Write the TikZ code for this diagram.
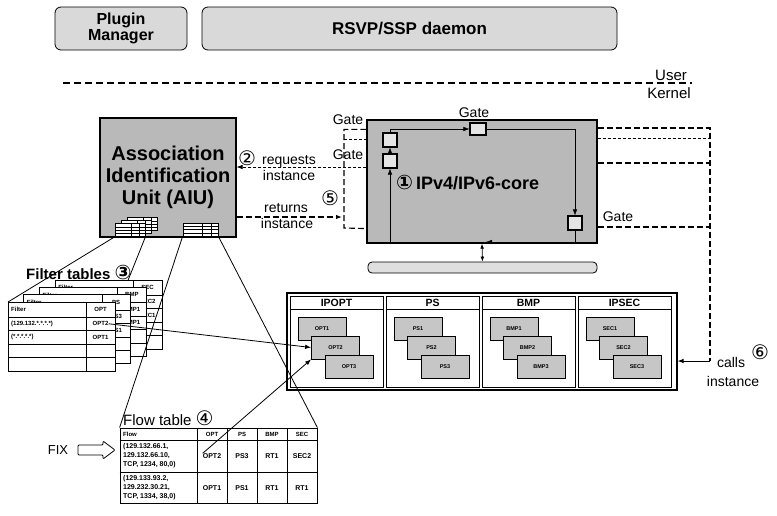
\documentclass[tikz,border=0pt]{standalone}
\usepackage{fontspec}
\setmainfont{Liberation Sans}
\newfontfamily\symfont{DejaVu Sans}
\usetikzlibrary{calc,arrows.meta}

\newcommand\numc[1]{{\symfont\fontsize{20}{20}\selectfont #1}}
\newcommand\fsz[1]{\fontsize{#1}{#1}\selectfont}

\tikzset{
  userbox/.style={draw, thick, rounded corners=6pt, fill=gray!30, inner sep=0pt},
  kernbox/.style={draw, very thick, fill=gray!55, inner sep=0pt},
  gate/.style={draw, very thick, fill=gray!20, inner sep=0pt, minimum width=14pt, minimum height=14pt},
  modbox/.style={draw, thick, fill=gray!45, inner sep=0pt, minimum width=48pt, minimum height=23pt, font=\fsz{5.5}\bfseries},
  sigline/.style={line width=1.1pt, dash pattern=on 6pt off 3pt},
  fineline/.style={line width=0.6pt, dash pattern=on 3pt off 2pt},
  lbl/.style={inner sep=0pt, font=\fsz{14}},
  ftxt/.style={inner sep=0pt, font=\fsz{6}\bfseries},
  arr/.style={-{Latex[length=6pt, width=4.5pt]}},
  minitab/.style={draw, thick, fill=white, inner sep=0pt, minimum width=30pt, minimum height=13pt,
    path picture={
      \foreach \r in {0.25,0.5,0.75}
        \draw[thin] ($(path picture bounding box.north west)!\r!(path picture bounding box.south west)$) -- ($(path picture bounding box.north east)!\r!(path picture bounding box.south east)$);
      \foreach \c in {0.55,0.8}
        \draw[thin] ($(path picture bounding box.north west)!\c!(path picture bounding box.north east)$) -- ($(path picture bounding box.south west)!\c!(path picture bounding box.south east)$);
    }}
}

\begin{document}
\begin{tikzpicture}[x=1pt, y=-1pt]
  \useasboundingbox (0,0) rectangle (777,515);

  % user space
  \node[userbox, minimum width=132pt, minimum height=43pt, align=center, font=\fontsize{16}{16}\selectfont\bfseries] (plugin) at (121,28.5) {Plugin\\Manager};
  \node[userbox, minimum width=415pt, minimum height=43pt, font=\fsz{17}\bfseries] (rsvp) at (409.5,28.5) {RSVP/SSP daemon};
  \draw[very thick, dash pattern=on 7pt off 4pt] (63,83) -- (692,83);
  \node[anchor=south, inner sep=1pt, font=\fsz{15}] (user) at (671,82) {User};
  \node[anchor=north, inner sep=1pt, font=\fsz{15}] (kernel) at (669,86) {Kernel};

  % AIU and core
  \node[kernbox, minimum width=136pt, minimum height=119pt, align=center, font=\fontsize{20}{22}\selectfont\bfseries] (aiu) at (168,177.5) {Association\\Identification\\Unit (AIU)};
  \foreach \i in {2,1,0}
    \node[minitab] (fic\i) at (130+6*\i, 230-3*\i) {};
  \node[minitab, minimum width=35pt] (flic) at (200.5,229.5) {};

  \node[kernbox, minimum width=230pt, minimum height=123pt] (core) at (482,181.5) {};
  \node[anchor=west, inner sep=0pt, font=\fsz{18}\bfseries] (corelbl) at (396,183) {\numc{①}\,IPv4/IPv6-core};
  \node[gate] (gateA) at (390,140) {};
  \node[gate] (gateB) at (390,161) {};
  \node[gate, minimum width=16pt, minimum height=12pt] (gateC) at (478,129) {};
  \node[gate] (gateD) at (575,223) {};
  \coordinate (loopSW) at (390,242);
  \draw[arr] (loopSW) -- (gateB.south);
  \draw[arr] (gateB.north) -- (gateA.south);
  \draw[arr] (gateA.north) |- (gateC.west);
  \draw[arr] (gateC.east) -| (gateD.north);
  \draw (gateD.south) |- (loopSW);
  \draw[arr] (500,242) -- (486,242);
  \node[lbl] (glA) at (348,120) {Gate};
  \node[lbl] (glB) at (348,155) {Gate};
  \node[lbl] (glC) at (474,113) {Gate};
  \node[lbl] (glD) at (618,217) {Gate};

  \node[draw, thick, rounded corners=4pt, fill=gray!25, minimum width=229pt, minimum height=11pt, inner sep=0pt] (bus) at (482.5,267.5) {};
  \draw[thick, {Latex[length=5pt]}-{Latex[length=5pt]}] (core.south) -- (bus.north);

  % left signalling
  \coordinate (lbend) at (344,228);
  \draw[sigline] ([yshift=-10pt]core.north west) -| (lbend) -- ([yshift=15pt]core.south west);
  \draw[fineline] (344,139) -- (core.west |- 0,139);
  \coordinate (reqA) at (core.west |- 0,167);
  \draw[fineline, arr] (reqA) -- (aiu.east |- reqA);
  \draw[sigline, arr] (aiu.east |- 0,217) -- (342,217);
  \node[inner sep=0pt] (n2) at (247,158) {\numc{②}};
  \node[lbl] (req) at (289,161) {requests};
  \node[lbl] (reqi) at (289,175) {instance};
  \node[lbl] (ret) at (286,208) {returns};
  \node[inner sep=0pt] (n5) at (330,198) {\numc{⑤}};
  \node[lbl] (reti) at (287,223) {instance};

  % right signalling
  \coordinate (rbend) at (710,361);
  \draw[sigline] (core.east |- 0,128) -- (710,128) -- (rbend);
  \draw[fineline] (core.east |- 0,138) -- (710,138);
  \draw[sigline] (core.east |- 0,163) -- (710,163);
  \draw[sigline] (core.east |- 0,227) -- (710,227);

  % modules
  \node[draw, very thick, minimum width=390pt, minimum height=97pt, inner sep=0pt] (modules) at (482,341.5) {};
  \foreach \px/\title/\pre in {290/IPOPT/OPT, 386/PS/PS, 482/BMP/BMP, 578/IPSEC/SEC} {
    \draw[thick] (\px,296) rectangle ++(93,91);
    \draw[thick] (\px,309) -- ++(93,0);
    \node[inner sep=0pt, font=\fsz{10.5}\bfseries] (t\pre) at ({\px+46.5},302.5) {\title};
    \foreach \j in {1,2,3}
      \node[modbox] (\pre\j) at ({\px+32+13.5*(\j-1)}, {328.5+19*(\j-1)}) {\pre\j};
  }
  \draw[thick, arr] (rbend) -- (modules.east |- rbend);
  \node[lbl] (calls) at (731,362) {calls};
  \node[inner sep=0pt] (n6) at (760,352) {\numc{⑥}};
  \node[lbl] (callsi) at (733,381) {instance};

  % filter tables
  \foreach \i/\cname/\va/\vb in {3/SEC/SEC2/SEC1, 2/BMP/BMP1/BMP1, 1/PS/PS3/PS1, 0/OPT/OPT2/OPT1} {
    \pgfmathsetmacro\tx{8+15.7*\i}
    \pgfmathsetmacro\ty{302-7.3*\i}
    \coordinate (ft\i) at (\tx,\ty);
    \draw[thick, fill=white] (ft\i) rectangle ++(107,69);
    \foreach \ry in {15,28.5,42,55.5}
      \draw[thin] ($(ft\i)+(0,\ry)$) -- ++(107,0);
    \draw[thin] ($(ft\i)+(78,0)$) -- ++(0,69);
    \node[ftxt, anchor=west] (fh\i) at ($(ft\i)+(3,7.5)$) {Filter};
    \node[ftxt] (fc\i) at ($(ft\i)+(92.5,7.5)$) {\cname};
    \node[ftxt] (fa\i) at ($(ft\i)+(92.5,21.75)$) {\va};
    \node[ftxt] (fb\i) at ($(ft\i)+(92.5,35.25)$) {\vb};
  }
  \node[ftxt, anchor=west] (fr0) at ($(ft0)+(3,21.75)$) {(129.132.*.*.*.*)};
  \node[ftxt, anchor=west] (fs0) at ($(ft0)+(3,35.25)$) {(*.*.*.*.*)};
  \node[anchor=west, inner sep=0pt, font=\fsz{15}\bfseries] (ftlbl) at (26,272) {Filter tables \numc{③}};

  % flow table
  \node[draw, thick, fill=white, minimum width=197pt, minimum height=75pt, inner sep=0pt] (flowtab) at (218.5,465.5) {};
  \draw[thin] (flowtab.west |- 0,440) -- (flowtab.east |- 0,440);
  \draw[thin] (flowtab.west |- 0,472) -- (flowtab.east |- 0,472);
  \foreach \cx in {197,227,257,287}
    \draw[thin] (\cx,428) -- (\cx,503);
  \foreach \cx/\head in {212/OPT, 242/PS, 272/BMP, 302/SEC}
    \node[ftxt] (h\head) at (\cx,434) {\head};
  \node[ftxt, anchor=west] (hflow) at (123,434) {Flow};
  \node[anchor=west, align=left, inner sep=0pt, font=\fontsize{7}{9}\selectfont\bfseries] (fl1) at (123,456) {(129.132.66.1,\\129.132.66.10,\\TCP, 1234, 80,0)};
  \node[anchor=west, align=left, inner sep=0pt, font=\fontsize{7}{9}\selectfont\bfseries] (fl2) at (123,488) {(129.133.93.2,\\129.232.30.21,\\TCP, 1334, 38,0)};
  \foreach \cx/\va/\vb [count=\k] in {212/OPT2/OPT1, 242/PS3/PS1, 272/RT1/RT1, 302/SEC2/RT1} {
    \node[ftxt, font=\fsz{7}\bfseries] (c1\k) at (\cx,456) {\va};
    \node[ftxt, font=\fsz{7}\bfseries] (c2\k) at (\cx,488) {\vb};
  }
  \node[anchor=west, inner sep=0pt, font=\fsz{15}] (fllbl) at (123,418) {Flow table \numc{④}};
  \node[inner sep=0pt, font=\fsz{13}] (fix) at (58,450) {FIX};
  \draw[thick, rounded corners=1pt] (78,445) -- (103,445) -- (103,441) -- (115,450) -- (103,459) -- (103,455) -- (78,455) -- cycle;

  % links
  \draw[thick] (fic0.south west) -- (ft0);
  \draw[thick] (fic0.south east) -- ($(ft3)+(73,0)$);
  \draw[thick] (flic.south west) -- (flowtab.north west);
  \draw[thick] (flic.south east) -- (flowtab.north east);
  \draw[thick, arr] (fa0.east) -- (OPT2.west);
  \draw[thick, arr] (c11.north west) -- (OPT2.south west);
\end{tikzpicture}
\end{document}
